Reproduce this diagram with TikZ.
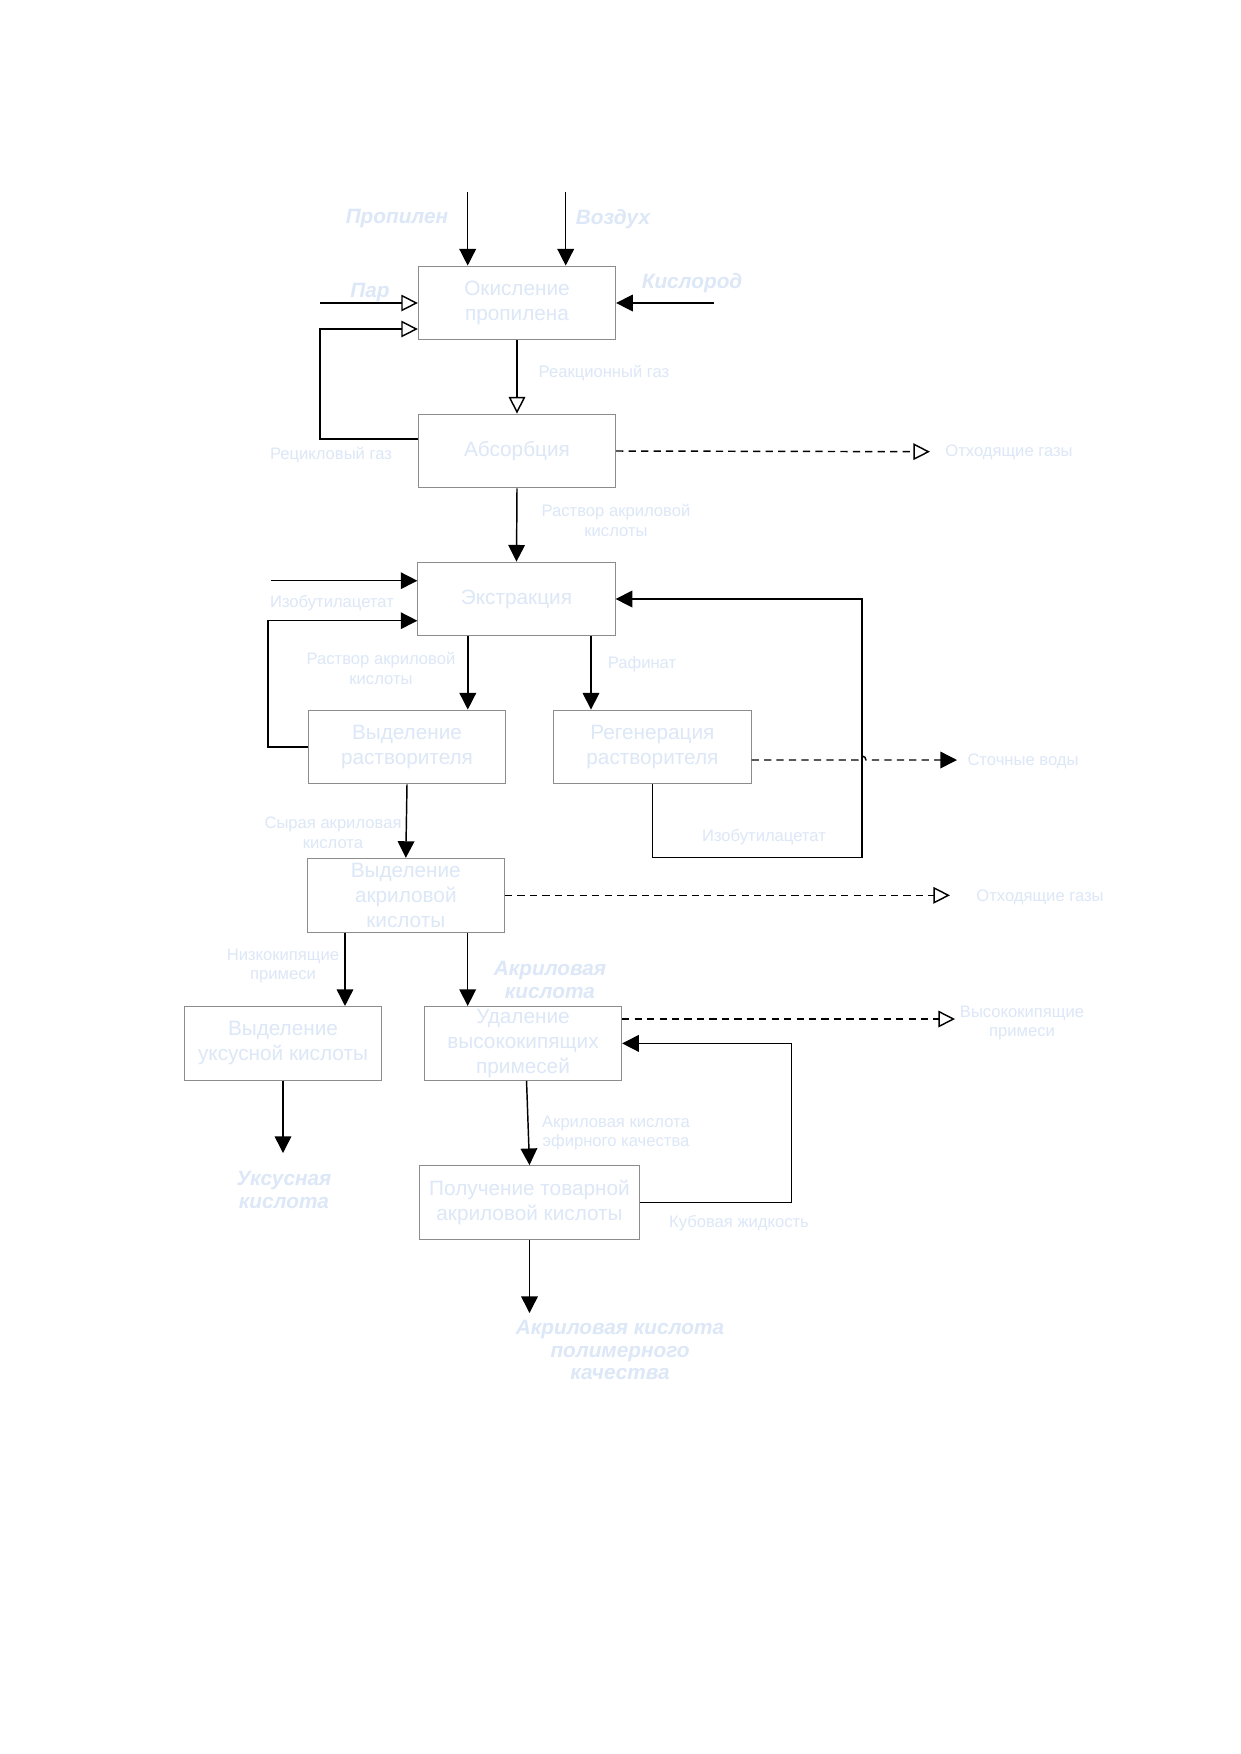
\documentclass[tikz,border=0pt]{standalone}
\usepackage{fontspec}
\setmainfont{Liberation Sans}
\usetikzlibrary{arrows.meta}
\definecolor{txtblue}{RGB}{220,231,247}
\definecolor{boxgray}{RGB}{140,140,140}
\tikzset{
  proc/.style={draw=boxgray, line width=0.5pt, minimum width=33.4mm, minimum height=12.5mm, inner sep=0pt, align=center, text=txtblue, font=\fontsize{10}{12}\selectfont},
  lbl/.style={text=txtblue, align=center, font=\fontsize{8}{9.6}\selectfont},
  blbl/.style={text=txtblue, align=center, font=\fontsize{10}{11}\selectfont\bfseries\itshape},
  flow/.style={draw, line width=0.7pt, -{Triangle[length=8pt,width=8pt]}},
  oflow/.style={draw, line width=0.7pt, -{Triangle[open,length=8pt,width=8pt]}},
  waste/.style={dash pattern=on 3.5pt off 2.5pt},
}
\begin{document}
\begin{tikzpicture}[x=0.16933mm, y=-0.16933mm]
            \useasboundingbox[fill=white] (0,0) rectangle (1240,1754);
            % process boxes
            \node [proc] (ok) at (517,303) {Окисление\\пропилена};
            \node [proc] (abs) at (517,451) {Абсорбция};
            \node [proc] (ext) at (516.5,599) {Экстракция};
            \node [proc] (vr) at (407,747) {Выделение\\растворителя};
            \node [proc] (reg) at (652.4,747) {Регенерация\\растворителя};
            \node [proc] (vak) at (405.8,895.3) {Выделение\\акриловой\\кислоты};
            \node [proc] (vuk) at (283,1043.4) {Выделение\\уксусной кислоты};
            \node [proc] (udal) at (523,1043.4) {Удаление\\высококипящих\\примесей};
            \node [proc, minimum width=37.4mm] (pol) at (529.5,1202.5) {Получение товарной\\акриловой кислоты};
            % labels
            \node [blbl] (propl) at (397,219) {Пропилен};
            \node [blbl] (vozl) at (613,219) {Воздух};
            \node [blbl] (kisl) at (692,283) {Кислород};
            \node [blbl] (parl) at (370,293) {Пар};
            \node [lbl] (rgl) at (604,373) {Реакционный газ};
            \node [lbl] (rcl) at (331,455) {Рецикловый газ};
            \node [lbl] (og1l) at (1009,452) {Отходящие газы};
            \node [lbl] (ra1l) at (616,520) {Раствор акриловой\\кислоты};
            \node [lbl] (iz1l) at (332,603) {Изобутилацетат};
            \node [lbl] (ra2l) at (381,668) {Раствор акриловой\\кислоты};
            \node [lbl] (rafl) at (642,664) {Рафинат};
            \node [lbl] (stl) at (1023,761) {Сточные воды};
            \node [lbl] (iz2l) at (764,837) {Изобутилацетат};
            \node [lbl] (syl) at (333,833) {Сырая акриловая\\кислота};
            \node [lbl] (og2l) at (1040,897) {Отходящие газы};
            \node [lbl] (nkl) at (283,966) {Низкокипящие\\примеси};
            \node [blbl] (akl) at (550,980) {Акриловая\\кислота};
            \node [lbl] (vkl) at (1022,1023) {Высококипящие\\примеси};
            \node [lbl] (efl) at (616,1133) {Акриловая кислота\\эфирного качества};
            \node [blbl] (ukl) at (284,1190) {Уксусная\\кислота};
            \node [lbl] (kbl) at (739,1223) {Кубовая жидкость};
            \node [blbl] (pml) at (620,1350) {Акриловая кислота\\полимерного\\качества};
            % free ends and bends
            \coordinate (propin) at (467.7,192);
            \coordinate (vozin) at (565.7,192);
            \coordinate (parin) at (320,303);
            \coordinate (kisin) at (714,303);
            \coordinate (rc1) at (320,439);
            \coordinate (rc2) at (320,329);
            \coordinate (og1) at (930,451.7);
            \coordinate (izin) at (270.6,580.7);
            \coordinate (rv2) at (268,620.7);
            \coordinate (xa) at (467.8,0);
            \coordinate (xr) at (591,0);
            \coordinate (rg1) at (652.5,857.7);
            \coordinate (rg2) at (862,857.7);
            \coordinate (hy) at (0,760);
            \coordinate (hopa) at (858,760);
            \coordinate (st) at (957,760);
            \coordinate (og2) at (950,895.3);
            \coordinate (xb) at (345,0);
            \coordinate (xc) at (467.7,0);
            \coordinate (vy) at (0,1019);
            \coordinate (vk) at (955,1019);
            \coordinate (kb) at (791.6,1043.4);
            \coordinate (ukout) at (283,1153);
            \coordinate (pmout) at (529.5,1313);
            % connectors
            \path [flow] (propin) -- (propin |- ok.north);
            \path [flow] (vozin) -- (vozin |- ok.north);
            \path [oflow] (parin) -- (ok.west);
            \path [flow] (kisin) -- (ok.east);
            \path [oflow] (abs.west |- rc1) -- (rc1) -- (rc2) -- (ok.west |- rc2);
            \path [oflow] (ok.south) -- (abs.north);
            \path [oflow, waste] (abs.east) -- (og1);
            \path [flow] (abs.south) -- (ext.north);
            \path [flow] (izin) -- (ext.west |- izin);
            \path [flow] (vr.west) -| (rv2) -- (ext.west |- rv2);
            \path [flow] (xa |- ext.south) -- (xa |- vr.north);
            \path [flow] (xr |- ext.south) -- (xr |- reg.north);
            \path [flow] (rg1 |- reg.south) -- (rg1) -- (rg2) |- (ext.east);
            \path [flow, waste] (reg.east |- hy) -- (hopa) arc[start angle=180, end angle=360, radius=4] -- (st);
            \path [flow] (vr.south) -- (vak.north);
            \path [oflow, waste] (vak.east) -- (og2);
            \path [flow] (xb |- vak.south) -- (xb |- vuk.north);
            \path [flow] (xc |- vak.south) -- (xc |- udal.north);
            \path [oflow, waste] (udal.east |- vy) -- (vk);
            \path [flow] (pol.east) -| (kb) -- (udal.east);
            \path [flow] (vuk.south) -- (ukout);
            \path [flow] ([xshift=0.6mm]udal.south) -- (pol.north);
            \path [flow] (pol.south) -- (pmout);
\end{tikzpicture}
\end{document}
